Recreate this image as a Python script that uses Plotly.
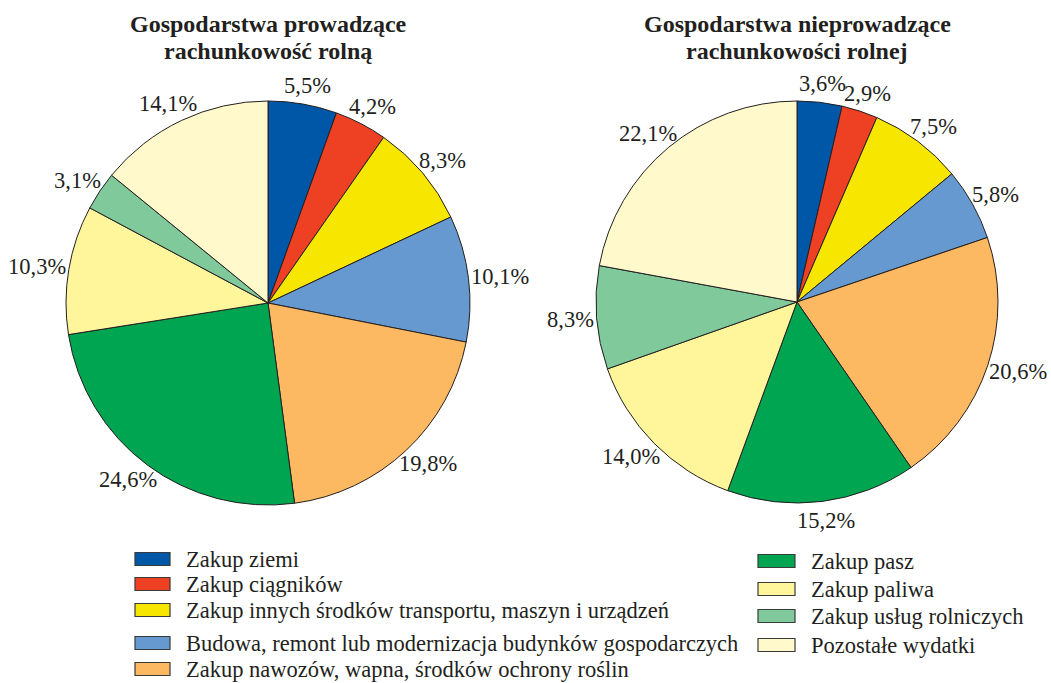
import math
import plotly.graph_objects as go

# Expense categories (shared by both pies)
categories = [
    "Zakup ziemi",
    "Zakup ciągników",
    "Zakup innych środków transportu, maszyn i urządzeń",
    "Budowa, remont lub modernizacja budynków gospodarczych",
    "Zakup nawozów, wapna, środków ochrony roślin",
    "Zakup pasz",
    "Zakup paliwa",
    "Zakup usług rolniczych",
    "Pozostałe wydatki",
]

# Shares (%) for farms keeping / not keeping agricultural accounts
left_values = [5.5, 4.2, 8.3, 10.1, 19.8, 24.6, 10.3, 3.1, 14.1]
right_values = [3.6, 2.9, 7.5, 5.8, 20.6, 15.2, 14.0, 8.3, 22.1]

left_title = ["Gospodarstwa prowadzące", "rachunkowość rolną"]
right_title = ["Gospodarstwa nieprowadzące", "rachunkowości rolnej"]

colors = [
    "#0057A8", "#EE4023", "#F7E600", "#6699CF", "#FDB862",
    "#00A551", "#FFF59B", "#80C99A", "#FFF9CC",
]

W, H = 1051, 683
FONT = "Times New Roman, Liberation Serif, serif"
INK = "#231F20"

fig = go.Figure()


def fmt(v):
    return f"{v:.1f}".replace(".", ",") + "%"


def text_width(s, size):
    w = 0.0
    for ch in s:
        if ch == ",":
            w += 0.25
        elif ch == "%":
            w += 0.833
        else:
            w += 0.5
    return w * size


def add_pie(values, cx, cy, r, title_lines):
    fig.add_trace(go.Pie(
        values=values,
        labels=categories,
        sort=False,
        direction="clockwise",
        rotation=0,
        marker=dict(colors=colors, line=dict(color=INK, width=1)),
        textinfo="none",
        hoverinfo="label+percent",
        showlegend=False,
        domain=dict(x=[(cx - r) / W, (cx + r) / W],
                    y=[1 - (cy + r) / H, 1 - (cy - r) / H]),
    ))
    # percentage labels just outside each slice, along its mid angle
    size = 22.5
    total = sum(values)
    cum = 0.0
    for v in values:
        mid = (cum + v / 2) / total * 2 * math.pi
        cum += v
        s, c = math.sin(mid), math.cos(mid)
        txt = fmt(v)
        w = text_width(txt, size)
        h = size * 1.4
        d = r + 3
        xs = (d + w / 2) * s
        ys = (d + h / 2) * c
        fig.add_annotation(
            x=cx / W, y=1 - cy / H, xref="paper", yref="paper",
            text=txt, showarrow=False, xanchor="center", yanchor="middle",
            xshift=xs, yshift=ys,
            font=dict(family=FONT, size=size, color=INK),
        )
    # two-line bold title above the pie
    for line, ty in zip(title_lines, (24, 51)):
        fig.add_annotation(
            x=cx / W, y=1 - ty / H, xref="paper", yref="paper",
            text=f"<b>{line}</b>", showarrow=False,
            xanchor="center", yanchor="middle",
            font=dict(family=FONT, size=24, color=INK),
        )


add_pie(left_values, 268, 303, 202, left_title)
add_pie(right_values, 797, 302, 201, right_title)

# Two-column legend below the pies: (category index, swatch left, swatch right, row centre)
legend_rows = [
    (0, 135, 170, 559), (1, 135, 170, 584), (2, 135, 170, 610),
    (3, 135, 170, 643), (4, 135, 170, 669),
    (5, 758, 795, 561), (6, 758, 795, 589), (7, 758, 795, 616),
    (8, 758, 795, 645),
]
for idx, x0, x1, yc in legend_rows:
    fig.add_shape(
        type="rect", xref="paper", yref="paper",
        x0=x0 / W, x1=x1 / W,
        y0=1 - (yc + 6.5) / H, y1=1 - (yc - 6.5) / H,
        fillcolor=colors[idx], line=dict(color="#3A3A3A", width=1.2),
    )
    fig.add_annotation(
        x=(x1 + 14) / W, y=1 - yc / H, xref="paper", yref="paper",
        text=categories[idx], showarrow=False, xanchor="left", yanchor="middle",
        font=dict(family=FONT, size=22.5, color=INK),
    )

fig.update_layout(
    width=W, height=H,
    margin=dict(l=0, r=0, t=0, b=0),
    paper_bgcolor="white", plot_bgcolor="white",
)

fig.write_html("out.html")
